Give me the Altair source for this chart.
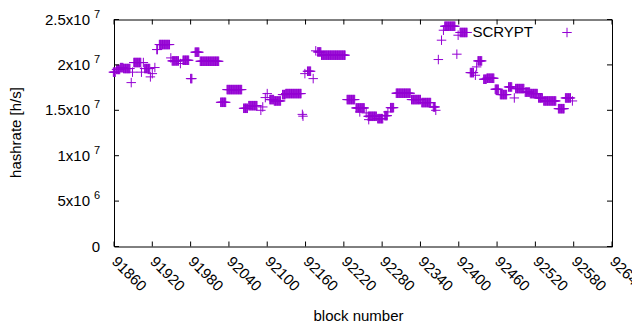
import altair as alt
import pandas as pd

# ---- data: runs of constant estimated hashrate (value in units of 1e7 h/s) ----
run_start = [91859, 91864, 91870, 91875, 91887, 91889, 91891, 91903, 91906, 91908,
             91917, 91920, 91924, 91927, 91931, 91949, 91951, 91964, 91968, 91980,
             91987, 91995, 92027, 92037, 92063, 92071, 92090, 92093, 92097, 92100,
             92104, 92111, 92124, 92129, 92155, 92156, 92159, 92163, 92172, 92176,
             92179, 92185, 92225, 92239, 92245, 92255, 92258, 92259, 92273, 92284,
             92289, 92293, 92302, 92326, 92342, 92360, 92364, 92368, 92373, 92376,
             92378, 92397, 92399, 92402, 92418, 92426, 92428, 92430, 92439, 92444,
             92457, 92465, 92478, 92487, 92489, 92504, 92512, 92525, 92533, 92556,
             92567, 92578]
run_end = [91862, 91869, 91874, 91885, 91887, 91889, 91902, 91903, 91906, 91916,
           91917, 91920, 91924, 91928, 91947, 91949, 91961, 91964, 91977, 91982,
           91993, 92024, 92035, 92060, 92069, 92084, 92090, 92093, 92097, 92100,
           92110, 92121, 92128, 92153, 92155, 92156, 92159, 92168, 92172, 92176,
           92184, 92222, 92237, 92252, 92245, 92255, 92271, 92259, 92281, 92288,
           92289, 92298, 92324, 92340, 92356, 92363, 92364, 92368, 92373, 92376,
           92394, 92397, 92399, 92413, 92423, 92426, 92428, 92436, 92443, 92455,
           92462, 92475, 92483, 92487, 92502, 92511, 92523, 92531, 92552, 92565,
           92575, 92578]
run_value = [1.92, 1.95, 1.97, 1.96, 1.805, 1.92, 2.026, 1.92, 2.026, 1.96,
             1.868, 1.904, 1.971, 2.169, 2.224, 2.077, 2.044, 2.015, 2.051, 1.849,
             2.140, 2.040, 1.588, 1.728, 1.522, 1.551, 1.50, 1.537, 1.640, 1.684,
             1.618, 1.603, 1.673, 1.684, 1.455, 1.435, 1.904, 1.930, 1.849, 2.155,
             2.143, 2.107, 1.618, 1.526, 1.482, 1.471, 1.434, 1.397, 1.408, 1.441,
             1.482, 1.529, 1.688, 1.618, 1.585, 1.537, 1.50, 2.059, 2.272, 2.382,
             2.426, 2.118, 2.327, 2.357, 1.915, 1.886, 1.978, 2.044, 1.842, 1.853,
             1.732, 1.673, 1.757, 1.636, 1.739, 1.70, 1.684, 1.636, 1.603, 1.518,
             1.636, 1.603]

x_ticks = [91860, 91920, 91980, 92040, 92100, 92160, 92220, 92280, 92340,
           92400, 92460, 92520, 92580, 92640]
y_ticks = [0, 5e6, 1e7, 1.5e7, 2e7, 2.5e7]
y_mant = ["0", "5x10", "1x10", "1.5x10", "2x10", "2.5x10"]
y_exp = ["", "6", "7", "7", "7", "7"]

blocks, rates = [], []
for s, e, v in zip(run_start, run_end, run_value):
    for b in range(s, e + 1):
        blocks.append(b)
        rates.append(v * 1e7)
df = pd.DataFrame({"block": blocks, "hashrate": rates})

PURPLE = "#9400D3"
FONT = "Liberation Sans"
W, H = 498, 227
TL = 5
PLUS = "M-1,0H1M0,-1V1"

xscale = alt.Scale(domain=[91860, 92640], nice=False, zero=False)
yscale = alt.Scale(domain=[0, 2.5e7], nice=False, zero=False)

x_enc = alt.X("block:Q", scale=xscale,
              axis=alt.Axis(values=x_ticks, labelAngle=45, labelAlign="left",
                            labelBaseline="middle", labelPadding=12, ticks=False,
                            domain=False, grid=False, labelFont=FONT, labelFontSize=15,
                            labelColor="black", title=None, format="d",
                            labelOverlap=False, labelBound=False, labelFlush=False))
y_enc = alt.Y("hashrate:Q", scale=yscale, axis=None)

points = alt.Chart(df).mark_point(shape=PLUS, filled=False, color=PURPLE,
                                  strokeWidth=1, size=90, opacity=1).encode(x=x_enc, y=y_enc)

xt = pd.DataFrame({"block": x_ticks})
yt = pd.DataFrame({"hashrate": y_ticks, "mant": y_mant, "exp": y_exp})

tick_b = alt.Chart(xt).mark_rule(color="black", strokeWidth=1).encode(
    x=x_enc, y=alt.value(H), y2=alt.value(H - TL))
tick_t = alt.Chart(xt).mark_rule(color="black", strokeWidth=1).encode(
    x=x_enc, y=alt.value(0), y2=alt.value(TL))
tick_l = alt.Chart(yt).mark_rule(color="black", strokeWidth=1).encode(
    y=y_enc, x=alt.value(0), x2=alt.value(TL))
tick_r = alt.Chart(yt).mark_rule(color="black", strokeWidth=1).encode(
    y=y_enc, x=alt.value(W), x2=alt.value(W - TL))

mant = alt.Chart(yt).transform_filter("datum.exp != ''").mark_text(
    align="right", baseline="middle", font=FONT, fontSize=15, color="black").encode(
    y=y_enc, x=alt.value(-24), text="mant:N")
expo = alt.Chart(yt).transform_filter("datum.exp != ''").mark_text(
    align="right", baseline="middle", font=FONT, fontSize=11, color="black", dy=-5).encode(
    y=y_enc, x=alt.value(-14), text="exp:N")
zero = alt.Chart(yt).transform_filter("datum.exp == ''").mark_text(
    align="right", baseline="middle", font=FONT, fontSize=15, color="black").encode(
    y=y_enc, x=alt.value(-14), text="mant:N")

xtitle = alt.Chart(pd.DataFrame({"t": ["block number"]})).mark_text(
    font=FONT, fontSize=15, color="black", align="center", baseline="alphabetic").encode(
    x=alt.value(244.5), y=alt.value(301.5), text="t:N")
ytitle = alt.Chart(pd.DataFrame({"t": ["hashrate [h/s]"]})).mark_text(
    font=FONT, fontSize=15, color="black", align="center", baseline="middle", angle=270).encode(
    x=alt.value(-98), y=alt.value(113), text="t:N")
legtext = alt.Chart(pd.DataFrame({"t": ["SCRYPT"]})).mark_text(
    font=FONT, fontSize=15, color="black", align="right", baseline="middle").encode(
    x=alt.value(419), y=alt.value(12.5), text="t:N")
legpt = alt.Chart(pd.DataFrame({"t": ["SCRYPT"]})).mark_point(
    shape=PLUS, filled=False, color=PURPLE, strokeWidth=1, size=90, opacity=1).encode(
    x=alt.value(453), y=alt.value(13))

chart = alt.layer(points, tick_b, tick_t, tick_l, tick_r, mant, expo, zero,
                  xtitle, ytitle, legtext, legpt).properties(
    width=W, height=H,
    padding={"left": 106, "top": 11.5, "right": 20, "bottom": 75},
    autosize=alt.AutoSizeParams(type="none"),
    background="white",
).configure_view(stroke="black", strokeWidth=1)

chart.save("out.html", embed_options={"renderer": "svg", "actions": False})
